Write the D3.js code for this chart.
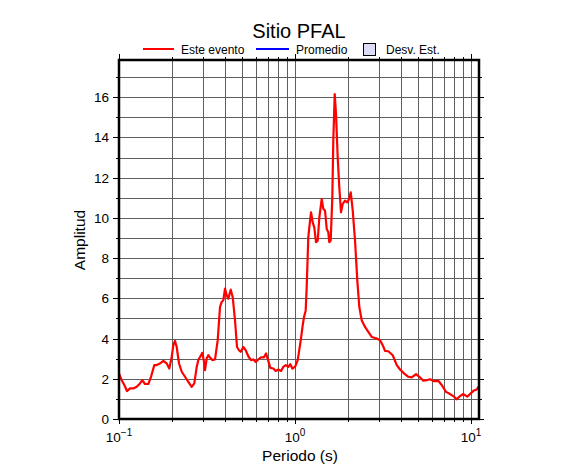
<!DOCTYPE html>
<html><head><meta charset="utf-8">
<script src="https://cdn.jsdelivr.net/npm/d3@7/dist/d3.min.js"></script>
<style>body{margin:0;background:#fff}svg{display:block}text{font-family:"Liberation Sans",Arial,sans-serif}</style>
</head><body>
<svg id="c" width="586" height="475"></svg>
<script>
const title = "Sitio PFAL";
const legendLabels = ["Este evento", "Promedio", "Desv. Est."];
const periods = [0.1,0.1036,0.1072,0.111,0.1155,0.1206,0.126,0.1316,0.1356,0.1405,0.1467,0.152,0.1587,0.1637,0.171,0.1785,0.1866,0.1931,0.1993,0.2035,0.2081,0.2127,0.2193,0.2272,0.2371,0.2476,0.2589,0.2678,0.2764,0.2822,0.2924,0.2974,0.3041,0.3081,0.315,0.3217,0.3289,0.339,0.3512,0.3638,0.3749,0.3832,0.3914,0.4002,0.4092,0.4178,0.4312,0.4426,0.4561,0.4682,0.4806,0.4914,0.5084,0.5246,0.5428,0.5623,0.5796,0.598,0.6188,0.641,0.6641,0.6843,0.7052,0.7239,0.753,0.7771,0.804,0.8328,0.8581,0.8856,0.916,0.9404,0.9654,1.0,1.036,1.078,1.106,1.125,1.15,1.165,1.19,1.206,1.233,1.26,1.287,1.316,1.346,1.375,1.418,1.448,1.481,1.514,1.546,1.566,1.595,1.629,1.65,1.681,1.71,1.748,1.785,1.825,1.866,1.923,1.982,2.027,2.073,2.128,2.193,2.259,2.319,2.393,2.499,2.609,2.728,2.913,3.041,3.15,3.246,3.39,3.591,3.784,3.951,4.163,4.404,4.604,4.87,5.085,5.358,5.602,5.848,6.163,6.519,6.815,7.211,7.598,8.007,8.295,8.66,9.042,9.528,9.87,10.31,10.78,11.1];
const amplitudes = [2.26,1.93,1.69,1.39,1.52,1.52,1.6,1.77,1.93,1.74,1.74,2.1,2.68,2.68,2.76,2.89,2.76,2.51,3.09,3.67,3.88,3.58,2.76,2.35,2.1,1.85,1.6,1.77,2.59,2.93,3.17,3.29,2.84,2.43,3.02,3.17,3.06,2.93,2.96,3.92,5.57,5.82,5.9,6.48,6.15,5.98,6.43,6.06,4.91,3.58,3.42,3.34,3.58,3.42,3.12,2.93,2.96,2.84,2.96,3.06,3.06,3.26,2.89,2.54,2.51,2.39,2.46,2.39,2.59,2.68,2.59,2.73,2.51,2.59,2.93,3.92,4.66,5.07,5.4,6.56,9.04,9.53,10.28,9.78,9.53,8.79,8.87,10.03,10.94,10.45,10.36,9.45,9.29,8.79,8.87,11.02,13.83,16.15,15.16,13.0,11.52,10.28,10.69,10.86,10.77,10.94,11.27,10.36,8.87,6.89,5.57,4.91,4.58,4.33,4.08,4.0,3.92,3.67,3.39,3.37,3.17,2.68,2.46,2.27,2.1,2.07,2.23,2.1,1.9,1.93,1.98,1.88,1.9,1.69,1.35,1.24,1.11,0.98,1.14,1.24,1.11,1.24,1.4,1.47,1.64];
const xDomain = [0.1, 11.1];
const yDomain = [0, 17.85];
const xMajorTicks = [0.1, 1, 10];
const xTickExps = ["\u22121", "0", "1"];
const yMajorTicks = [0, 2, 4, 6, 8, 10, 12, 14, 16];
const yMinorTicks = [1, 3, 5, 7, 9, 11, 13, 15, 17];
const yGrid = d3.range(1, 18);
const xGrid = [];
[0.1, 1].forEach(b => { for (let k = 2; k <= 9; k++) xGrid.push(+(b * k).toFixed(2)); });
xGrid.push(1, 10);
const xMinor = xGrid.filter(v => ![1, 10].includes(v));

const svg = d3.select("#c");
const L = 119, T = 60, R = 479, B = 419;
const x = d3.scaleLog().domain(xDomain).range([L, R]);
const y = d3.scaleLinear().domain(yDomain).range([B, T]);

// grid
const g = svg.append("g").attr("stroke", "#5e5e5e").attr("stroke-width", 1);
yGrid.forEach(v => g.append("line").attr("x1", L).attr("x2", R).attr("y1", Math.round(y(v)) + 0.5).attr("y2", Math.round(y(v)) + 0.5));
xGrid.forEach(v => g.append("line").attr("y1", T).attr("y2", B).attr("x1", Math.round(x(v)) + 0.5).attr("x2", Math.round(x(v)) + 0.5));

// curve
const line = d3.line().x((d, i) => x(periods[i])).y(d => y(d));
svg.append("path").datum(amplitudes).attr("d", line).attr("fill", "none").attr("stroke", "#ff0000").attr("stroke-width", 2.2).attr("stroke-linejoin", "round");

// ticks
const tk = svg.append("g").attr("stroke", "#000").attr("stroke-width", 1);
yMajorTicks.forEach(v => {
  const yy = Math.round(y(v)) + 0.5;
  tk.append("line").attr("x1", L - 6).attr("x2", L).attr("y1", yy).attr("y2", yy);
  tk.append("line").attr("x1", R).attr("x2", R + 5).attr("y1", yy).attr("y2", yy);
});
yMinorTicks.forEach(v => {
  const yy = Math.round(y(v)) + 0.5;
  tk.append("line").attr("x1", L - 3).attr("x2", L).attr("y1", yy).attr("y2", yy);
  tk.append("line").attr("x1", R).attr("x2", R + 3).attr("y1", yy).attr("y2", yy);
});
xMajorTicks.forEach(v => {
  const xx = Math.round(x(v)) + 0.5;
  tk.append("line").attr("x1", xx).attr("x2", xx).attr("y1", T - 6).attr("y2", T);
  tk.append("line").attr("x1", xx).attr("x2", xx).attr("y1", B).attr("y2", B + 5);
});
xMinor.forEach(v => {
  const xx = Math.round(x(v)) + 0.5;
  tk.append("line").attr("x1", xx).attr("x2", xx).attr("y1", T - 3).attr("y2", T);
  tk.append("line").attr("x1", xx).attr("x2", xx).attr("y1", B).attr("y2", B + 3);
});

// frame
svg.append("rect").attr("x", L).attr("y", T).attr("width", R - L).attr("height", B - T)
  .attr("fill", "none").attr("stroke", "#000").attr("stroke-width", 2.5);

// tick labels
yMajorTicks.forEach(v => svg.append("text").attr("x", 109).attr("y", y(v) + 5)
  .attr("text-anchor", "end").attr("font-size", 13.5).text(v));
xMajorTicks.forEach((v, i) => {
  const t = svg.append("text").attr("x", x(v)).attr("y", 442).attr("text-anchor", "middle").attr("font-size", 13.5);
  t.append("tspan").text("10");
  t.append("tspan").attr("dy", -6).attr("font-size", 10).text(xTickExps[i]);
});

// axis titles
svg.append("text").attr("x", 300).attr("y", 461).attr("text-anchor", "middle").attr("font-size", 15.5).text("Periodo (s)");
svg.append("text").attr("transform", "translate(85,240) rotate(-90)").attr("text-anchor", "middle").attr("font-size", 15.5).text("Amplitud");

// title
svg.append("text").attr("x", 299).attr("y", 38).attr("text-anchor", "middle").attr("font-size", 20).text(title);

// legend
svg.append("line").attr("x1", 143).attr("x2", 174).attr("y1", 49).attr("y2", 49).attr("stroke", "#ff0000").attr("stroke-width", 2);
svg.append("text").attr("x", 181).attr("y", 54).attr("font-size", 12).text(legendLabels[0]);
svg.append("line").attr("x1", 256).attr("x2", 289).attr("y1", 49).attr("y2", 49).attr("stroke", "#0000ff").attr("stroke-width", 2);
svg.append("text").attr("x", 296).attr("y", 54).attr("font-size", 12).text(legendLabels[1]);
svg.append("rect").attr("x", 363.5).attr("y", 43.5).attr("width", 12).attr("height", 12).attr("fill", "#dcdcf8").attr("stroke", "#000").attr("stroke-width", 1);
svg.append("text").attr("x", 386).attr("y", 54).attr("font-size", 12).text(legendLabels[2]);
</script>
</body></html>
